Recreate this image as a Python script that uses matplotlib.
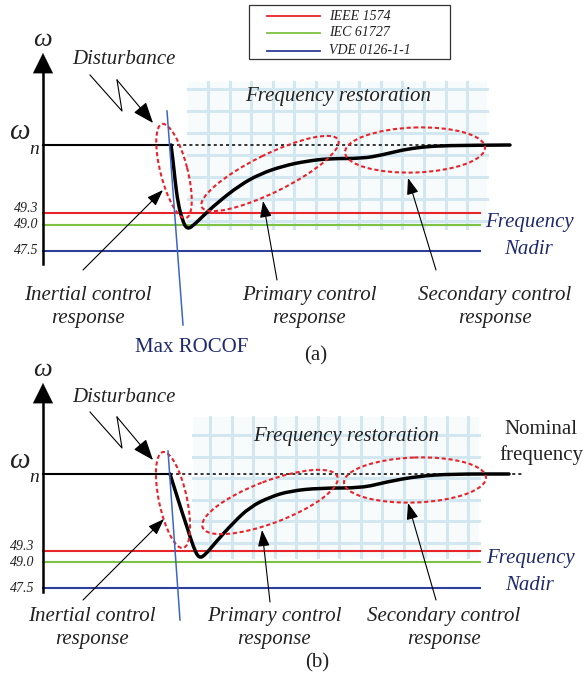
import numpy as np
import matplotlib.pyplot as plt
from matplotlib.path import Path
from matplotlib.patches import PathPatch, Ellipse, FancyArrowPatch, Rectangle

# grid-code standards and their frequency nadir limits (Hz)
std_names = ['IEEE 1574', 'IEC 61727', 'VDE 0126-1-1']
std_limits = ['49.3', '49.0', '47.5']
std_colors = ['#e8242b', '#7cc243', '#2e3f99']

# frequency response traces (pixel x, pixel y downwards)
curve_a_x = [171, 173, 175, 178, 182, 187, 195, 202, 217, 240, 260, 283, 307, 330, 362, 382, 402, 422, 445, 510]
curve_a_y = [145, 160, 180, 203, 219, 230, 224, 217, 203, 185, 174, 166, 161, 158.5, 158.5, 155, 150, 147, 145.5, 145]
curve_b_x = [170, 176, 182, 188, 193, 199, 206, 215, 233, 250, 270, 290, 320, 362, 386, 419, 453, 509]
curve_b_y = [474, 493, 512, 530, 546, 559, 554, 543, 523, 507, 497, 491, 488, 488, 482, 476, 474, 474]

# rows of the limit lines and nominal line in each panel
limit_y_a = [213, 225, 251]
limit_y_b = [551, 562, 588]
nominal_y_a = 145
nominal_y_b = 474

# response ellipses: centre x, centre y, width, height, angle
ell_a = [(174, 171, 97, 27, 75.7), (270, 173.5, 152, 38, -26.2), (415, 150, 140, 45, -2)]
ell_b = [(173, 500, 98, 28, 78), (270, 502, 144, 42, -20.7), (415, 480, 142, 45, -2)]

labels = ['Inertial control\nresponse', 'Primary control\nresponse', 'Secondary control\nresponse']

RED_DOT = '#e8242b'
NAVY = '#1f2a6e'
GRIDC = '#d3e7f0'
SERIF = 'Liberation Serif'


def smooth_path(xs, ys):
    pts = list(zip(xs, ys))
    verts = [pts[0]]
    codes = [Path.MOVETO]
    for i in range(1, len(pts) - 1):
        mid = ((pts[i][0] + pts[i + 1][0]) / 2., (pts[i][1] + pts[i + 1][1]) / 2.)
        verts += [pts[i], mid]
        codes += [Path.CURVE3, Path.CURVE3]
    verts.append(pts[-1])
    codes.append(Path.LINETO)
    return Path(verts, codes)


def arrow(ax, p0, p1, hl=1.0, hw=0.36, lw=0.8):
    a = FancyArrowPatch(p0, p1, arrowstyle='-|>,head_length=%g,head_width=%g' % (hl, hw),
                        mutation_scale=10, lw=lw, color='k', shrinkA=0, shrinkB=0, zorder=8)
    ax.add_patch(a)


def itext(ax, x, y, s, size=15, color='#222222', style='italic', **kw):
    ax.text(x, y, s, fontsize=size, color=color, family=SERIF, style=style,
            ha='center', va='center', **kw)


fig = plt.figure(figsize=(5.86, 6.77), dpi=100)
ax = fig.add_axes([0, 0, 1, 1])
ax.set_xlim(0, 586)
ax.set_ylim(677, 0)
ax.axis('off')


def panel(ax, dy, grid_box, vlines, hlines, curve_x, curve_y, lim_y, nom_y, ells,
          axis_top, axis_bot, rocof, arrows, lab_pos, tick_x, nadir_pos, dotted_end, restor_pos):
    # grid background
    gx0, gx1, gy0, gy1 = grid_box
    ax.add_patch(Rectangle((gx0, gy0), gx1 - gx0, gy1 - gy0, fc='#f8fbfc', ec='none', zorder=0))
    for v in vlines:
        ax.plot([v, v], [gy0, gy1], color=GRIDC, lw=2.2, zorder=1)
    for h in hlines:
        ax.plot([gx0, gx1], [h, h], color=GRIDC, lw=2.2, zorder=1)
    itext(ax, restor_pos[0], restor_pos[1], 'Frequency restoration', size=15)

    # vertical axis with arrow
    ax.plot([43, 43], [axis_bot, axis_top + 15], color='k', lw=1.8, zorder=3)
    arrow(ax, (43, axis_top + 25), (43, axis_top), hl=1.45, hw=0.72, lw=0.1)
    itext(ax, 42, axis_top - 13, 'ω', size=19)
    ax.text(19, nom_y - 13, 'ω', fontsize=21, family=SERIF, style='italic',
            ha='center', va='center', color='#222222')
    ax.text(34, nom_y + 4, 'n', fontsize=14, family=SERIF, style='italic',
            ha='center', va='center', color='#222222')

    # limit lines
    for yy, c in zip(lim_y, std_colors):
        ax.plot([43, 480], [yy, yy], color=c, lw=1.5, zorder=2)
    for yy, lbl in zip(lim_y, std_limits):
        ax.text(tick_x, yy - (5 if lbl == '49.3' else 0), lbl, fontsize=10, family=SERIF,
                style='italic', ha='right', va='center', color='#222222')
    itext(ax, nadir_pos[0], nadir_pos[1], 'Frequency', color=NAVY)
    itext(ax, nadir_pos[0], nadir_pos[1] + 26, 'Nadir', color=NAVY)

    # nominal line
    ax.plot([43, curve_x[0]], [nom_y, nom_y], color='k', lw=1.5, zorder=3)
    ax.plot([curve_x[0], dotted_end], [nom_y, nom_y], color='k', lw=1.1,
            ls=(0, (2, 2)), zorder=3)

    # frequency trace
    ax.add_patch(PathPatch(smooth_path(curve_x, curve_y), fc='none', ec='k', lw=2.5,
                           capstyle='round', joinstyle='round', zorder=4))

    # ellipses
    for cx, cy, w, h, ang in ells:
        ax.add_patch(Ellipse((cx, cy), w, h, angle=ang, fc='none', ec=RED_DOT, lw=1.5,
                             ls=(0, (2, 1.3)), zorder=5))

    # max rocof tangent
    ax.plot([rocof[0], rocof[2]], [rocof[1], rocof[3]], color='#3a66c4', lw=1.1, zorder=6)

    # disturbance zigzag
    zx = [90, 122, 117]
    zy = [75 + dy, 111 + dy, 80 + dy]
    ax.plot(zx, zy, color='k', lw=0.8, zorder=7)
    arrow(ax, (117, 80 + dy), (153, 123 + dy), hl=1.3, hw=0.5, lw=0.8)
    itext(ax, 124, 60 + dy, 'Disturbance')

    # annotation arrows and texts
    for (p0, p1), (lx, ly), s in zip(arrows, lab_pos, labels):
        arrow(ax, p0, p1)
        itext(ax, lx, ly, s, linespacing=1.25, multialignment='center')


# panel (a)
panel(ax, 0, (188, 487, 82, 228), [208 + 21.6 * k for k in range(13)],
      [89, 111, 133, 155, 177, 199, 221],
      curve_a_x, curve_a_y, limit_y_a, nominal_y_a, ell_a,
      53, 264, (167, 111, 183, 325),
      [((83, 270), (163, 190)), ((277, 280), (263, 201)), ((436, 270), (408, 178))],
      [(88, 307), (309, 307), (495, 307)], 38, (529, 223), 480, (338, 96))

# panel (b)
panel(ax, 337, (193, 479, 417, 557), [210 + 21.5 * k for k in range(13)],
      [435, 457, 478, 500, 521, 543],
      curve_b_x, curve_b_y, limit_y_b, nominal_y_b, ell_b,
      383, 592, (168, 451, 180, 620),
      [((83, 600), (164, 519)), ((270, 602), (262, 530)), ((436, 600), (408, 503))],
      [(92, 628), (274, 628), (444, 628)], 34, (530, 559), 523, (346, 437))

# legend box (a)
ax.add_patch(Rectangle((249, 5), 201, 54, fc='white', ec='#333333', lw=0.9, zorder=9))
for yy, c, nm in zip([16, 33, 51], std_colors, std_names):
    ax.plot([267, 320], [yy, yy], color=c, lw=1.3, zorder=10)
    ax.text(329, yy, nm, fontsize=10, family=SERIF, style='italic', ha='left',
            va='center', color='#222222', zorder=10)

itext(ax, 192, 347, 'Max ROCOF', color=NAVY, style='normal')
itext(ax, 541, 430, 'Nominal', style='normal')
itext(ax, 541, 455, 'frequency', style='normal')
itext(ax, 316, 356, '(a)', style='normal')
itext(ax, 317, 663, '(b)', style='normal')

fig.savefig('out.png', dpi=100)
